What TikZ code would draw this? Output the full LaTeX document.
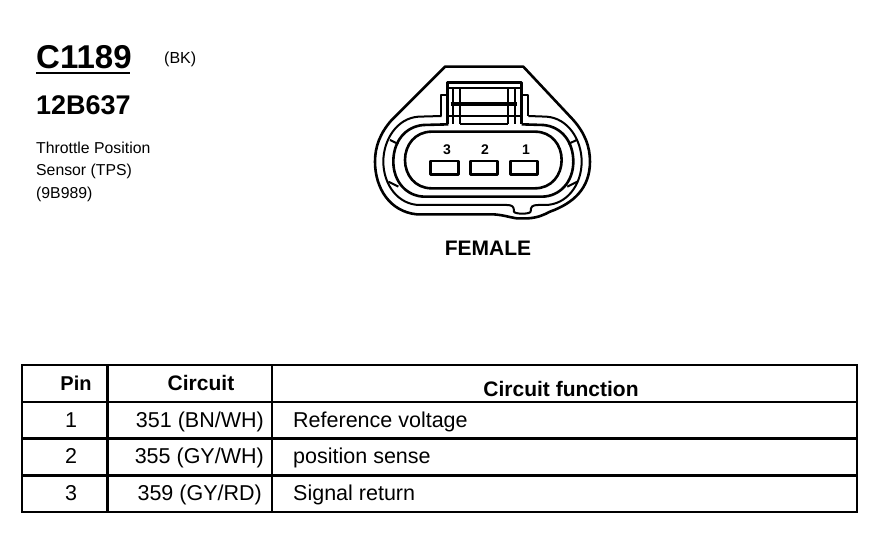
\documentclass[tikz,border=0pt]{standalone}
\usepackage{fontspec}
\setmainfont{Liberation Sans}
\newcommand{\fs}[1]{\fontsize{#1}{#1}\selectfont}
\tikzset{
 conn/.style={line width=2pt,line join=round},
 conb/.style={line width=2.6pt,line join=round},
 grid/.style={line width=2.4pt,line cap=rect},
 head/.style={font=\fs{21}\bfseries,anchor=base,inner sep=0pt},
 cell/.style={font=\fs{21.5},anchor=base,inner sep=0pt},
 cellw/.style={cell,anchor=base west},
 celle/.style={cell,anchor=base east},
 small/.style={font=\fs{15.8},anchor=base west,inner sep=0pt},
 pinnum/.style={font=\fs{14}\bfseries,anchor=base,inner sep=0pt},
}
\begin{document}
\begin{tikzpicture}[x=1pt,y=-1pt]
\useasboundingbox (0,0) rectangle (882,544);
\fill[white] (0,0) rectangle (882,544);
% heading
\node[font=\fs{33}\bfseries,anchor=base west,inner sep=0pt] (conn) at (36,68) {C1189};
\draw[line width=2pt] (36,72.5) -- (130,72.5);
\node[font=\fs{16},anchor=base west,inner sep=0pt] (col) at (164,63) {(BK)};
\node[font=\fs{27}\bfseries,anchor=base west,inner sep=0pt] (part) at (36,114) {12B637};
\node[small] (d1) at (36,153) {Throttle Position};
\node[small] (d2) at (36,175) {Sensor (TPS)};
\node[small] (d3) at (36,198) {(9B989)};
\node[font=\fs{21}\bfseries,anchor=base,inner sep=0pt] (fem) at (488,255) {FEMALE};
% connector
\begin{scope}[shift={(360,55)},x=0.3333pt,y=-0.3333pt]
\draw[conb] (255,35) -- (490,35) -- (640,195) .. controls (675,235) and (690,275) .. (690,320)
  .. controls (690,400) and (640,445) .. (570,470) .. controls (555,478) and (535,488) .. (505,490)
  -- (470,490) .. controls (445,486) and (430,480) .. (400,478) -- (170,478)
  .. controls (90,470) and (45,400) .. (45,320) .. controls (45,275) and (60,235) .. (95,195) -- cycle;
\draw[conn] (245,183) -- (175,185) .. controls (110,190) and (70,255) .. (70,320)
  .. controls (70,390) and (115,450) .. (180,450) -- (440,450)
  .. controls (458,450) and (462,455) .. (462,470) .. controls (464,478) and (510,478) .. (512,470)
  .. controls (512,455) and (516,450) .. (535,450) -- (555,450)
  .. controls (620,450) and (665,390) .. (665,320) .. controls (665,255) and (625,190) .. (560,185) -- (505,183);
\draw[conb] (265,208) -- (190,210) .. controls (135,215) and (100,260) .. (100,320)
  .. controls (100,380) and (140,425) .. (195,425) -- (545,425)
  .. controls (600,425) and (640,380) .. (640,320) .. controls (640,260) and (605,215) .. (550,210) -- (485,208);
\draw[conb] (215,230) -- (525,230) .. controls (575,230) and (605,270) .. (605,315)
  .. controls (605,360) and (575,400) .. (525,400) -- (215,400)
  .. controls (165,400) and (135,360) .. (135,315) .. controls (135,270) and (165,230) .. (215,230) -- cycle;
\foreach \a/\b/\c/\d in {90/255/115/267,625/267/650/255,85/380/115/395,622/395/652/380}
  \draw[conn] (\a,\b) -- (\c,\d);
% latch
\draw[conb] (263,208) -- (263,83) -- (485,83) -- (485,208);
\draw[conn] (263,120) -- (243,120) -- (243,183);
\draw[conn] (485,120) -- (505,120) -- (505,183);
\draw[conn] (263,100) -- (485,100);
\draw[line width=3.5pt] (272,147) -- (470,147);
\draw[conn] (300,100) -- (300,147) (445,100) -- (445,147) (465,100) -- (465,147) (280,100) -- (280,147);
\draw[conn] (280,147) -- (280,208) (300,147) -- (300,208) (445,147) -- (445,208) (465,147) -- (465,208);
\draw[conn] (263,183) -- (485,183);
\draw[conn] (300,206) -- (445,206);
% pins
\draw[conb] (212,318) rectangle (295,358);
\draw[conb] (332,318) rectangle (413,358);
\draw[conb] (452,318) rectangle (533,358);
\end{scope}
\node[pinnum] (n3) at (447,154) {3};
\node[pinnum] (n2) at (485,154) {2};
\node[pinnum] (n1) at (526,154) {1};
% table
\draw[grid] (22,365) rectangle (857,512);
\draw[grid] (22,402) -- (857,402);
\draw[grid] (22,438.5) -- (857,438.5);
\draw[grid] (22,475.5) -- (857,475.5);
\draw[grid] (107.5,365) -- (107.5,512);
\draw[grid] (272,365) -- (272,512);
\node[head,font=\fs{20}\bfseries] (hp) at (76,390) {Pin};
\node[head] (hc) at (201,390) {Circuit};
\node[head] (hf) at (561,396) {Circuit function};
\node[cell] (p1) at (71,427) {1};
\node[cell] (p2) at (71,463) {2};
\node[cell] (p3) at (71,500) {3};
\node[celle] (c1) at (264,427) {351 (BN/WH)};
\node[celle] (c2) at (264,463) {355 (GY/WH)};
\node[celle] (c3) at (262,500) {359 (GY/RD)};
\node[cellw] (f1) at (293,427) {Reference voltage};
\node[cellw] (f2) at (293,463) {position sense};
\node[cellw] (f3) at (293,500) {Signal return};
\end{tikzpicture}
\end{document}
